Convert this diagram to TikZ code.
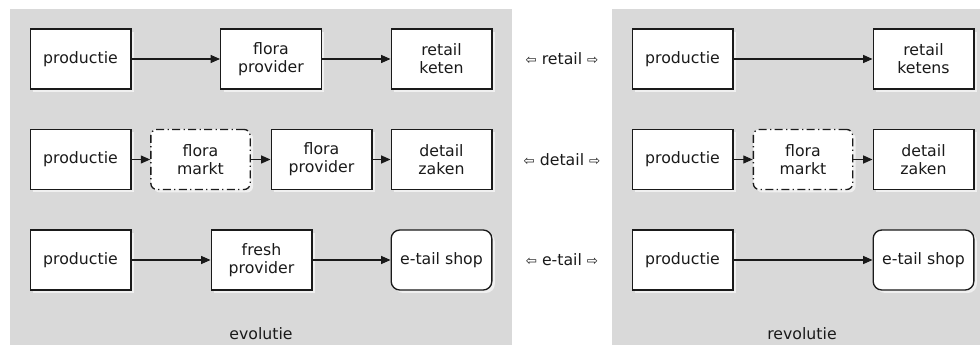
\documentclass[tikz,border=0pt]{standalone}
\usepackage{fontspec}
\setmainfont{DejaVu Sans}
\usepackage{tikz}
\usetikzlibrary{arrows.meta, shadows}
\usepackage{xcolor}
\definecolor{PanelGray}{HTML}{D9D9D9}
\definecolor{InkBlack}{HTML}{1A1A1A}
\definecolor{ShadeWhite}{HTML}{F0F0F0}
\tikzset{
    % boxes
    stage/.style={
        rectangle,
        draw=InkBlack,
        fill=white,
        line width=1pt,
        minimum width=75.5pt,
        minimum height=45pt,
        align=center,
        text=InkBlack,
        font=\fontsize{11.8}{13.5}\selectfont,
        drop shadow={shadow xshift=2.2pt, shadow yshift=-2.2pt, fill=ShadeWhite, opacity=1}
    },
    market/.style={
        stage,
        minimum width=74.5pt,
        rounded corners=4.5pt,
        dash pattern=on 6pt off 2.5pt on 1pt off 2.5pt
    },
    shop/.style={
        stage,
        rounded corners=6.5pt
    },
    panel/.style={
        fill=PanelGray
    },
    caption/.style={
        text=InkBlack,
        font=\fontsize{11.8}{13.5}\selectfont
    },
    % arrows
    arrow/.style={
        -{Triangle[length=7pt, width=6pt]},
        line width=0.8pt,
        draw=InkBlack
    }
}
\newcommand{\lpijl}{{\fontsize{10}{10}\selectfont ⇦}}
\newcommand{\rpijl}{{\fontsize{10}{10}\selectfont ⇨}}

\begin{document}
\begin{tikzpicture}[x=0.75pt, y=-0.75pt]
    \useasboundingbox (0,0) rectangle (980,345);
    \fill[panel] (10,9) rectangle (512,345);
    \fill[panel] (612,9) rectangle (980,345);

    % evolutie
    \node[stage] (p1) at (80.5,59) {productie};
    \node[stage] (fp1) at (271,59) {flora\\provider};
    \node[stage] (rk1) at (441.5,59) {retail\\keten};

    \node[stage] (p2) at (80.5,159.5) {productie};
    \node[market] (fm2) at (200.5,159.5) {flora\\markt};
    \node[stage] (fp2) at (321.5,159.5) {flora\\provider};
    \node[stage] (dz2) at (441.5,159.5) {detail\\zaken};

    \node[stage] (p3) at (80.5,260) {productie};
    \node[stage] (fr3) at (261.5,260) {fresh\\provider};
    \node[shop] (es3) at (441.5,260) {e-tail shop};

    \draw[arrow] (p1) -- (fp1);
    \draw[arrow] (fp1) -- (rk1);
    \draw[arrow] (p2) -- (fm2);
    \draw[arrow] (fm2) -- (fp2);
    \draw[arrow] (fp2) -- (dz2);
    \draw[arrow] (p3) -- (fr3);
    \draw[arrow] (fr3) -- (es3);

    \node[caption] (evo) at (261,334) {evolutie};

    % tussen
    \node[caption] (retail) at (562,59) {\lpijl{} retail \rpijl};
    \node[caption] (detail) at (562,159.5) {\lpijl{} detail \rpijl};
    \node[caption] (etail) at (562,260) {\lpijl{} e-tail \rpijl};

    % revolutie
    \node[stage] (rp1) at (682.5,59) {productie};
    \node[stage] (rk4) at (923.5,59) {retail\\ketens};

    \node[stage] (rp2) at (682.5,159.5) {productie};
    \node[market] (fm5) at (803,159.5) {flora\\markt};
    \node[stage] (dz5) at (923.5,159.5) {detail\\zaken};

    \node[stage] (rp3) at (682.5,260) {productie};
    \node[shop] (es6) at (923.5,260) {e-tail shop};

    \draw[arrow] (rp1) -- (rk4);
    \draw[arrow] (rp2) -- (fm5);
    \draw[arrow] (fm5) -- (dz5);
    \draw[arrow] (rp3) -- (es6);

    \node[caption] (revo) at (802,334) {revolutie};
\end{tikzpicture}
\end{document}
